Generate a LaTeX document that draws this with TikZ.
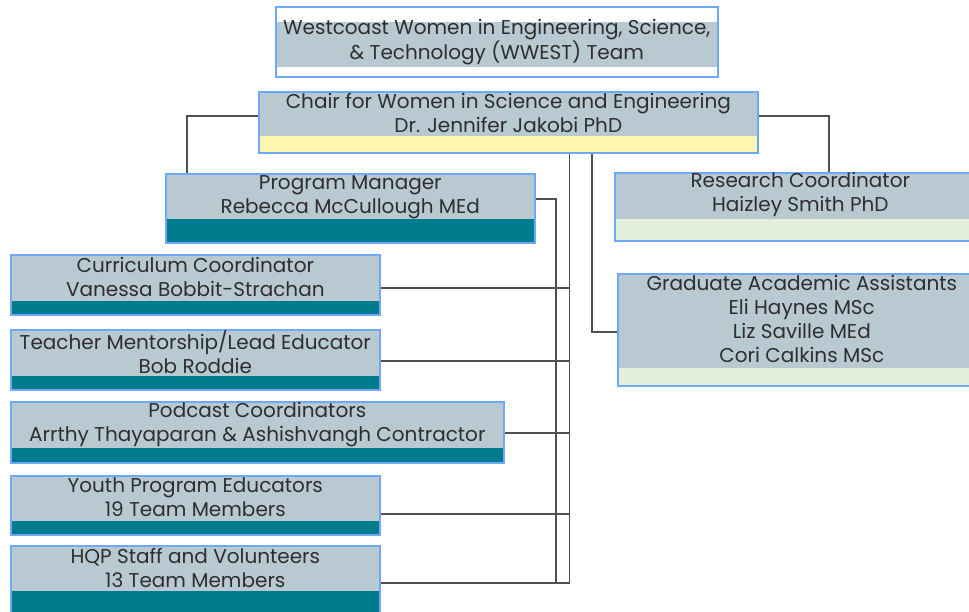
\documentclass[tikz,border=0pt]{standalone}
\usepackage{fontspec}
\setmainfont{Poppins}
\usetikzlibrary{calc}
\definecolor{boxgray}{HTML}{B8C9D2}
\definecolor{tealband}{HTML}{007C8E}
\definecolor{yelband}{HTML}{FFF5B0}
\definecolor{greenband}{HTML}{E4EFDA}
\definecolor{bordc}{HTML}{6EA8F8}
\definecolor{connc}{HTML}{505050}
\definecolor{txtc}{HTML}{2E2E2E}
\tikzset{
  orgbox/.style n args={4}{draw=bordc, line width=1.6pt, fill=boxgray, rectangle,
    inner sep=0pt, anchor=north west, minimum width=#1, minimum height=#2,
    path picture={\fill[#3] ([yshift=#4]path picture bounding box.south west)
      rectangle (path picture bounding box.south east);}},
  topbox/.style={draw=bordc, line width=1.6pt, fill=white, rectangle,
    inner sep=0pt, anchor=north west, minimum width=442pt, minimum height=70pt,
    path picture={\fill[boxgray] ([yshift=10pt]path picture bounding box.south west)
      rectangle ([yshift=-15pt]path picture bounding box.north east);}},
  lbl/.style={text=txtc, font=\fontsize{20}{24}\selectfont, align=center, inner sep=0pt},
  connline/.style={draw=connc, line width=1.2pt},
}
\begin{document}
\begin{tikzpicture}[x=1pt,y=-1pt]
\useasboundingbox (0,0) rectangle (969,612);
\clip (0,0) rectangle (969,612);
\fill[white] (0,0) rectangle (969,612);
% connector points
\coordinate (busb) at (569.5,583);
\coordinate (bust) at (569.5,152);
\coordinate (pmb) at (556,583);
\coordinate (pme) at (534,199);
\coordinate (gtop) at (592,152);
\coordinate (gradw) at (617,332);
\coordinate (chw) at (258,116);
\coordinate (pmn) at (187,173);
\coordinate (che) at (757,116);
\coordinate (resn) at (829,172);
\coordinate (c1) at (379,288);
\coordinate (c2) at (379,361);
\coordinate (c3) at (503,433);
\coordinate (c4) at (379,514);
\coordinate (c5) at (379,583);
% connectors
\draw[connline] (bust) -- (busb);
\draw[connline] (pme) -| (pmb) -- (busb);
\draw[connline] (gtop) |- (gradw);
\draw[connline] (chw) -| (pmn);
\draw[connline] (che) -| (resn);
\draw[connline] (c1) -- (c1 -| busb);
\draw[connline] (c2) -- (c2 -| busb);
\draw[connline] (c3) -- (c3 -| busb);
\draw[connline] (c4) -- (c4 -| busb);
\draw[connline] (c5) -- (busb);
% boxes
\node[topbox] (top) at (275,6) {};
\node[lbl] (topt) at (top.center) {Westcoast Women in Engineering, Science,\\\& Technology (WWEST) Team};
\node[orgbox={499pt}{61pt}{yelband}{17pt}] (chair) at (258,91) {};
\node[lbl] (chairt) at ([yshift=9pt]chair.center) {Chair for Women in Science and Engineering\\Dr. Jennifer Jakobi PhD};
\node[orgbox={369pt}{69pt}{tealband}{24pt}] (pm) at (165,173) {};
\node[lbl] (pmt) at ([yshift=11pt]pm.center) {Program Manager\\Rebecca McCullough MEd};
\node[orgbox={371pt}{68pt}{greenband}{22pt}] (res) at (614,172) {};
\node[lbl] (rest) at ([yshift=12pt]res.center) {Research Coordinator\\Haizley Smith PhD};
\node[orgbox={368pt}{112pt}{greenband}{18pt}] (grad) at (617,273) {};
\node[lbl] (gradt) at ([yshift=11pt]grad.center) {Graduate Academic Assistants\\Eli Haynes MSc\\Liz Saville MEd\\Cori Calkins MSc};
\node[orgbox={369pt}{60pt}{tealband}{14pt}] (cur) at (10,254) {};
\node[lbl] (curt) at ([yshift=8pt]cur.center) {Curriculum Coordinator\\Vanessa Bobbit-Strachan};
\node[orgbox={369pt}{60pt}{tealband}{14pt}] (teach) at (10,329) {};
\node[lbl] (teacht) at ([yshift=8pt]teach.center) {Teacher Mentorship/Lead Educator\\Bob Roddie};
\node[orgbox={493pt}{61pt}{tealband}{15pt}] (pod) at (10,401) {};
\node[lbl] (podt) at ([yshift=8pt]pod.center) {Podcast Coordinators\\Arrthy Thayaparan \& Ashishvangh Contractor};
\node[orgbox={369pt}{59pt}{tealband}{14pt}] (youth) at (10,475) {};
\node[lbl] (youtht) at ([yshift=8pt]youth.center) {Youth Program Educators\\19 Team Members};
\node[orgbox={369pt}{80pt}{tealband}{35pt}] (hqp) at (10,545) {};
\node[lbl] (hqpt) at ([yshift=18pt]hqp.center) {HQP Staff and Volunteers\\13 Team Members};
\end{tikzpicture}
\end{document}
